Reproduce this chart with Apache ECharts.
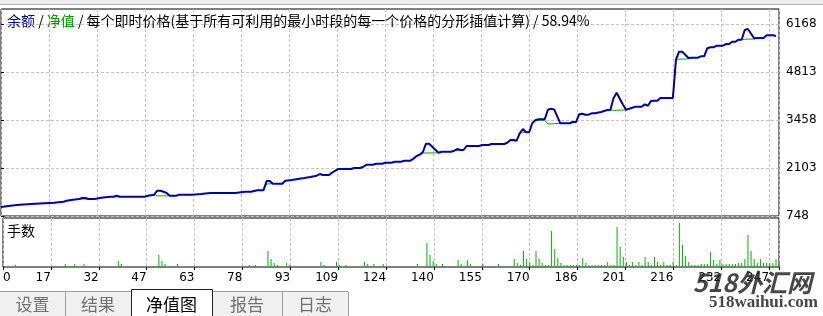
<!DOCTYPE html>
<html><head><meta charset="utf-8">
<script src="https://cdn.jsdelivr.net/npm/echarts@6/dist/echarts.min.js"></script>
<style>html,body{margin:0;padding:0;background:#fff;overflow:hidden}#c{width:823px;height:316px}</style>
</head><body><div id="c"></div>
<script>
// ---- data ----
const xTickLabels = [0,17,32,47,63,78,93,109,124,140,155,170,186,201,216,232,247];
const yTickLabels = [748,2103,3458,4813,6168];

// balance (blue) vertices: trade index / value
const balIdx = [0,3,6,11,17,20,21,23,25,26,27,28,30,32,35,36,37,38,46,47,49,50,51,52,53,54,56,57,61,64,67,75,78,80,82,84,85,86,87,90,91,93,95,97,99,101,102,103,105,106,107,108,112,113,115,116,117,119,120,122,123,125,126,128,129,131,132,133,134,135,136,137,140,141,144,145,146,147,148,149,153,154,156,157,161,162,163,164,165,166,167,168,169,170,171,172,174,175,176,177,179,182,183,184,185,186,187,188,189,190,192,194,195,196,197,199,200,201,203,205,206,207,208,209,210,211,215,216,217,218,220,221,223,224,225,226,227,228,229,231,232,233,234,235,236,237,238,239,241,243,244,245,247,248];
const balVal = [1000,1039,1067,1096,1124,1152,1181,1209,1229,1257,1257,1229,1229,1265,1294,1294,1322,1294,1294,1322,1350,1463,1463,1435,1398,1322,1322,1350,1350,1370,1398,1398,1435,1435,1477,1477,1738,1738,1661,1661,1746,1766,1794,1822,1851,1887,1935,1907,1907,1978,2029,2077,2077,2105,2105,2142,2198,2198,2227,2227,2255,2255,2283,2283,2311,2311,2368,2444,2481,2557,2792,2792,2538,2566,2566,2594,2642,2614,2614,2727,2727,2755,2755,2783,2783,2820,2897,2897,2877,3086,3208,3114,3114,3369,3453,3482,3482,3753,3781,3760,3369,3369,3405,3405,3623,3640,3612,3612,3651,3651,3688,3745,3745,4075,4234,3900,3753,3781,3838,3838,3906,3866,3999,4008,4008,4084,4084,5178,5393,5393,5215,5223,5223,5263,5263,5489,5517,5517,5562,5562,5610,5610,5675,5675,5732,5732,6006,6035,5772,5780,5780,5856,5856,5837];

// equity (green) where it separates from balance; null = break
const eqIdx = [25,28,null,36,38,null,49,50,53,54,null,84,85,87,null,134,135,139,140,null,145,146,147,null,162,163,165,null,165,166,169,null,171,174,175,180,null,195,196,200,null,205,206,207,null,215,216,220,221,null,237,238,241,242];
const eqVal = [1229,1229,null,1294,1294,null,1350,1318,1318,1322,null,1477,1653,1661,null,2481,2529,2533,2538,null,2594,2605,2614,null,2820,2877,2877,null,2877,3114,3114,null,3453,3453,3349,3369,null,3745,3736,3745,null,3838,3866,3866,null,4084,5178,5190,5223,null,5732,5745,5752,5776];

// lots per trade (volume panel)
const volIdx = [4,20,23,26,37,38,50,51,52,56,79,81,85,86,87,88,91,92,102,103,107,108,110,116,117,119,122,133,136,137,138,139,141,146,147,149,150,154,159,
 164,165,166,167,168,169,170,171,172,173,174,175,176,177,178,179,180,181,182,183,184,185,186,187,188,189,190,191,192,193,194,195,196,197,198,199,200,201,202,203,204,205,206,207,208,209,210,211,212,213,214,215,216,217,218,219,220,221,222,223,224,225,226,227,228,229,230,231,232,233,234,235,236,237,238,239,240,241,242,243,244,245,246,247,248,249];
const volLot = [0.02,0.03,0.03,0.03,0.06,0.03,0.12,0.06,0.03,0.03,0.02,0.02,0.16,0.08,0.04,0.02,0.04,0.02,0.05,0.02,0.05,0.02,0.02,0.05,0.03,0.03,0.03,0.03,0.24,0.12,0.06,0.03,0.03,0.07,0.03,0.07,0.03,0.03,0.03,
 0.08,0.04,0.02,0.16,0.08,0.05,0.02,0.16,0.08,0.04,
 0.02,0.02,0.36,0.18,0.09,0.04,0.02,0.02,0.02,0.02,
 0.02,0.02,0.09,0.04,0.02,0.02,0.02,0.02,0.02,0.02,
 0.05,0.02,0.02,0.40,0.20,0.10,0.05,0.02,0.05,0.02,
 0.05,0.02,0.10,0.05,0.02,0.10,0.05,0.02,0.05,0.02,
 0.02,0.05,0.02,0.44,0.22,0.11,0.05,0.02,0.02,0.02,
 0.03,0.03,0.03,0.15,0.07,0.03,0.07,0.03,0.03,0.03,
 0.03,0.03,0.04,0.04,0.08,0.32,0.16,0.08,0.04,0.08,
 0.04,0.04,0.04,0.04,0.08,0.04];

const titleParts = ['余额', '净值', '每个即时价格(基于所有可利用的最小时段的每一个价格的分形插值计算)', '58.94%'];
const volLabel = '手数';
const tabs = ['设置', '结果', '净值图', '报告', '日志'];

// ---- layout ----
const X_STEP = 15.36, X_MAX = 248.96;
const Y_MIN = 748, Y_MAX = 6600, Y_STEP = 1355;
const FONT = '"DejaVu Sans", sans-serif';
const CJK = '"Noto Sans CJK SC", sans-serif';
const dash = {type: [3, 2], color: '#c4c4c4', width: 1};

const chart = echarts.init(document.getElementById('c'), null, {renderer: 'canvas'});
const xFmt = v => {
  const k = Math.round(v / X_STEP);
  if (Math.abs(v - k * X_STEP) > 0.01) return '';
  return xTickLabels[k] === undefined ? '' : String(xTickLabels[k]);
};
const yFmt = v => yTickLabels.some(t => Math.abs(t - v) < 0.5) ? String(Math.round(v)) : '';

const tabX = [[0, 65], [65, 131], [131, 212], [212, 282], [282, 348]];
const tabGraphics = [];
tabGraphics.push({type: 'rect', shape: {x: 0, y: 291, width: 348, height: 25}, style: {fill: '#f0f0f0'}, z: 1});
tabGraphics.push({type: 'line', shape: {x1: 0, y1: 291.5, x2: 348, y2: 291.5}, style: {stroke: '#a0a0a0', lineWidth: 1}, z: 2});
tabs.forEach((t, k) => {
  const [a, b] = tabX[k];
  const active = k === 2;
  if (active) {
    tabGraphics.push({type: 'rect', shape: {x: a + 0.5, y: 289.5, width: b - a, height: 30}, style: {fill: '#fff', stroke: '#222', lineWidth: 1}, z: 3});
  } else if (k !== 1 && k !== 4) {
    // separators drawn below
  }
  if (!active) tabGraphics.push({type: 'line', shape: {x1: b + 0.5, y1: 292, x2: b + 0.5, y2: 316}, style: {stroke: '#a0a0a0', lineWidth: 1}, z: 2});
  tabGraphics.push({type: 'text', x: (a + b) / 2, y: 305, z: 4,
    style: {text: t, font: '17px ' + CJK, fill: active ? '#000' : '#707070', align: 'center', verticalAlign: 'middle'}});
});

chart.setOption({
  animation: false,
  backgroundColor: '#fff',
  grid: [
    {left: 1, top: 9, width: 778, height: 207, show: true, borderColor: '#000', borderWidth: 1, backgroundColor: '#fff'},
    {left: 1, top: 218, width: 778, height: 49, show: true, borderColor: '#000', borderWidth: 1, backgroundColor: '#fff'}
  ],
  xAxis: [
    {gridIndex: 0, type: 'value', min: 0, max: X_MAX, interval: X_STEP,
     axisLine: {show: false}, axisTick: {show: false}, axisLabel: {show: false},
     splitLine: {show: true, lineStyle: dash}},
    {gridIndex: 1, type: 'value', min: 0, max: X_MAX, interval: X_STEP,
     axisLine: {show: false},
     axisTick: {show: true, length: 3, lineStyle: {color: '#000'}},
     axisLabel: {show: true, formatter: xFmt, align: 'right', alignMinLabel: 'left', margin: 5,
       fontFamily: FONT, fontSize: 12, color: '#000', hideOverlap: false},
     splitLine: {show: true, lineStyle: dash}}
  ],
  yAxis: [
    {gridIndex: 0, type: 'value', position: 'right', min: Y_MIN, max: Y_MAX, interval: Y_STEP,
     axisLine: {show: false},
     axisTick: {show: true, length: 3, lineStyle: {color: '#000'}, customValues: yTickLabels},
     axisLabel: {show: true, formatter: yFmt, margin: 7, fontFamily: FONT, fontSize: 12, color: '#000', customValues: yTickLabels},
     splitLine: {show: true, lineStyle: dash}},
    {gridIndex: 1, type: 'value', min: 0, max: 0.49, show: false, splitLine: {show: false}}
  ],
  series: [
    {type: 'line', xAxisIndex: 0, yAxisIndex: 0, symbol: 'none', connectNulls: false,
     data: eqIdx.map((x, k) => x === null ? '-' : [x, eqVal[k]]),
     lineStyle: {color: '#00aa00', width: 1}, z: 2},
    {type: 'line', xAxisIndex: 0, yAxisIndex: 0, symbol: 'none',
     data: balIdx.map((x, k) => [x, balVal[k]]),
     lineStyle: {color: '#0000b0', width: 2}, z: 3},
    {type: 'bar', xAxisIndex: 1, yAxisIndex: 1, barWidth: 1,
     data: volIdx.map((x, k) => [x, volLot[k]]),
     itemStyle: {color: '#00b400'}}
  ],
  graphic: [
    {type: 'rect', shape: {x: 0, y: 0, width: 823, height: 4}, style: {fill: '#ececec'}, z: 1},
    {type: 'line', shape: {x1: 0, y1: 4.5, x2: 823, y2: 4.5}, style: {stroke: '#b4b4b4', lineWidth: 1}, z: 1},
    {type: 'text', x: 7, y: 21, z: 10, style: {
      text: '{b|' + titleParts[0] + '} / {g|' + titleParts[1] + '} / ' + titleParts[2] + ' / ' + titleParts[3],
      font: '14px ' + CJK, fill: '#000', verticalAlign: 'middle',
      rich: {b: {fill: '#0000a0', fontSize: 14, fontFamily: CJK}, g: {fill: '#00a000', fontSize: 14, fontFamily: CJK}}}},
    {type: 'text', x: 7, y: 231, z: 10, style: {text: volLabel, font: '14px ' + CJK, fill: '#000', verticalAlign: 'middle'}},
    ...tabGraphics,
    {type: 'text', x: 812, y: 282, z: 20, style: {text: '518外汇网', font: 'italic bold 25px ' + CJK, fill: 'rgba(40,40,40,0.85)', align: 'right', verticalAlign: 'middle'}},
    {type: 'text', x: 818, y: 303, z: 20, style: {text: '518waihui.com', font: 'bold 17px "Liberation Serif", serif', fill: 'rgba(50,50,50,0.9)', align: 'right', verticalAlign: 'middle'}}
  ]
});
</script>
</body></html>
